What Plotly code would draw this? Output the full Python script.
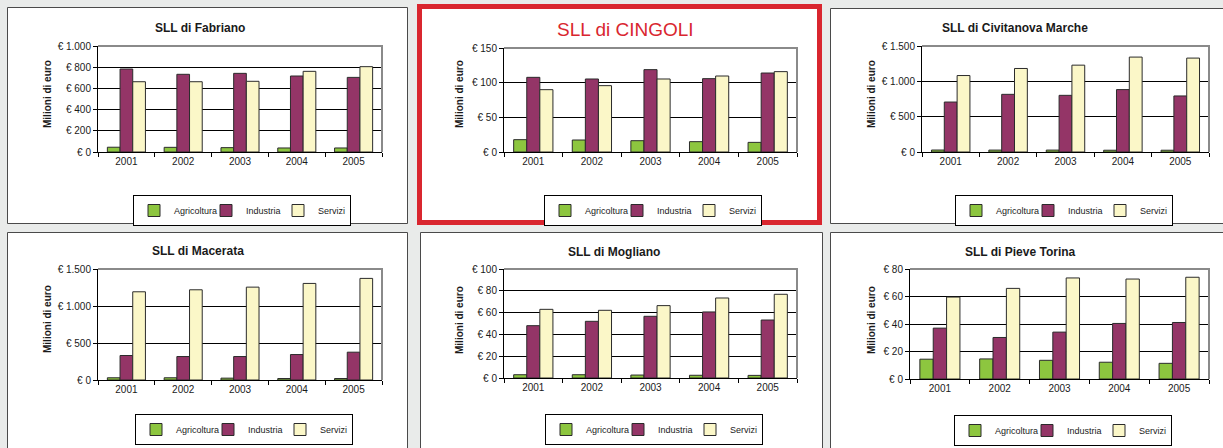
import plotly.graph_objects as go

W, H = 1223, 448

years = ["2001", "2002", "2003", "2004", "2005"]
series_names = ["Agricoltura", "Industria", "Servizi"]

# --- data (milioni di euro) ---
fabriano_agri = [45, 44, 41, 38, 38]
fabriano_ind = [783, 733, 742, 717, 704]
fabriano_serv = [663, 663, 667, 761, 805]

cingoli_agri = [17.8, 17.3, 16.3, 14.9, 13.9]
cingoli_ind = [107.7, 105.3, 118.8, 105.8, 113.9]
cingoli_serv = [89.9, 95.7, 105.3, 109.6, 115.9]

civitanova_agri = [28, 27, 27, 25, 25]
civitanova_ind = [707, 816, 802, 883, 793]
civitanova_serv = [1082, 1182, 1229, 1343, 1329]

macerata_agri = [30, 30, 25, 20, 20]
macerata_ind = [331, 317, 317, 344, 376]
macerata_serv = [1192, 1219, 1255, 1305, 1373]

mogliano_agri = [3.0, 3.0, 2.7, 2.5, 2.4]
mogliano_ind = [48.0, 52.0, 56.6, 60.6, 53.2]
mogliano_serv = [63.0, 62.1, 66.4, 73.4, 76.8]

pieve_agri = [14.4, 14.6, 13.6, 12.2, 11.4]
pieve_ind = [37.0, 30.2, 34.1, 40.4, 41.1]
pieve_serv = [59.6, 65.9, 73.5, 72.7, 74.0]

# --- tick values / labels ---
fabriano_tickvals = [0, 200, 400, 600, 800, 1000]
fabriano_ticktext = ["€ 0", "€ 200", "€ 400", "€ 600", "€ 800", "€ 1.000"]
cingoli_tickvals = [0, 50, 100, 150]
cingoli_ticktext = ["€ 0", "€ 50", "€ 100", "€ 150"]
civitanova_tickvals = [0, 500, 1000, 1500]
civitanova_ticktext = ["€ 0", "€ 500", "€ 1.000", "€ 1.500"]
macerata_tickvals = [0, 500, 1000, 1500]
macerata_ticktext = ["€ 0", "€ 500", "€ 1.000", "€ 1.500"]
mogliano_tickvals = [0, 20, 40, 60, 80, 100]
mogliano_ticktext = ["€ 0", "€ 20", "€ 40", "€ 60", "€ 80", "€ 100"]
pieve_tickvals = [0, 20, 40, 60, 80]
pieve_ticktext = ["€ 0", "€ 20", "€ 40", "€ 60", "€ 80"]

titles = ["SLL di Fabriano", "SLL di CINGOLI", "SLL di Civitanova Marche",
          "SLL di Macerata", "SLL di Mogliano", "SLL di Pieve Torina"]

panels_data = [
    (fabriano_agri, fabriano_ind, fabriano_serv, fabriano_tickvals, fabriano_ticktext),
    (cingoli_agri, cingoli_ind, cingoli_serv, cingoli_tickvals, cingoli_ticktext),
    (civitanova_agri, civitanova_ind, civitanova_serv, civitanova_tickvals, civitanova_ticktext),
    (macerata_agri, macerata_ind, macerata_serv, macerata_tickvals, macerata_ticktext),
    (mogliano_agri, mogliano_ind, mogliano_serv, mogliano_tickvals, mogliano_ticktext),
    (pieve_agri, pieve_ind, pieve_serv, pieve_tickvals, pieve_ticktext),
]

# --- layout geometry (pixels) ---
plot_boxes = [  # x0, x1, y0(top), y1(bottom)
    (98, 382, 46, 152),
    (504, 797, 48, 152),
    (922, 1209, 46, 152),
    (98, 382, 269, 380),
    (504, 797, 269, 378),
    (910, 1209, 269, 379),
]
panel_boxes = [
    (7, 407, 7, 223),
    (419.5, 819.5, 6.5, 222.5),
    (830, 1230, 8, 223),
    (7, 407, 232, 470),
    (420, 822, 232, 470),
    (830, 1230, 232, 470),
]
title_pos = [(200, 28), (625, 30), (1015, 28), (198, 251), (614, 252), (1020, 252)]
ytitle_pos = [(47, 94), (459, 94), (871, 94), (47, 319), (459, 320), (871, 320)]
legend_pos = [(242, 195), (653, 195), (1064, 195), (244, 414), (654, 414), (1063, 415)]

colors = ["#8dc63f", "#943567", "#fbf7c8"]
FONT = "Liberation Sans, Arial, sans-serif"
BG = "#e9ebea"


def px(x):
    return x / W


def py(y):
    return 1 - y / H


fig = go.Figure()
shapes = []
annotations = []
layout = {}

for i, (agri, ind, serv, tv, tt) in enumerate(panels_data):
    n = i + 1
    xa = "x" if n == 1 else f"x{n}"
    ya = "y" if n == 1 else f"y{n}"
    leg = "legend" if n == 1 else f"legend{n}"
    for name, vals, col in zip(series_names, [agri, ind, serv], colors):
        fig.add_trace(go.Bar(
            x=years, y=vals, name=name, xaxis=xa, yaxis=ya, legend=leg,
            marker=dict(color=col, line=dict(color="#2b2b2b", width=1)),
            showlegend=True,
        ))
    x0, x1, y0, y1 = plot_boxes[i]
    xkey = "xaxis" if n == 1 else f"xaxis{n}"
    ykey = "yaxis" if n == 1 else f"yaxis{n}"
    layout[xkey] = dict(
        domain=[px(x0), px(x1)], anchor=ya, type="category",
        tickson="boundaries", ticks="outside", ticklen=4, tickcolor="#000",
        showline=True, linecolor="#000", linewidth=1, showgrid=False,
        tickfont=dict(family=FONT, size=10, color="#1a1a1a"),
        automargin=False, fixedrange=True,
    )
    layout[ykey] = dict(
        domain=[py(y1), py(y0)], anchor=xa, range=[0, tv[-1]],
        tickvals=tv, ticktext=tt, ticks="outside", ticklen=4, tickcolor="#000",
        showline=True, linecolor="#000", linewidth=1,
        showgrid=True, gridcolor="#000", gridwidth=1, zeroline=False,
        tickfont=dict(family=FONT, size=10, color="#1a1a1a"),
        automargin=False, fixedrange=True,
    )
    lx, ly = legend_pos[i]
    layout[leg] = dict(
        x=px(lx), y=py(ly), xanchor="center", yanchor="top",
        orientation="h", bgcolor="#ffffff", bordercolor="#000", borderwidth=1,
        font=dict(family=FONT, size=9, color="#1a1a1a"),
        itemwidth=30, entrywidth=27, entrywidthmode="pixels",
        traceorder="normal",
    )
    # panel background
    bx0, bx1, by0, by1 = panel_boxes[i]
    if n == 2:
        shapes.append(dict(type="rect", xref="paper", yref="paper",
                           x0=px(bx0), x1=px(bx1), y0=py(by1), y1=py(by0),
                           fillcolor="#ffffff", line=dict(color="#d9262f", width=5),
                           layer="below"))
    else:
        shapes.append(dict(type="rect", xref="paper", yref="paper",
                           x0=px(bx0 + 0.5), x1=px(bx1 + 0.5), y0=py(by1 + 0.5), y1=py(by0 + 0.5),
                           fillcolor="#ffffff", line=dict(color="#4a4a4a", width=1),
                           layer="below"))
    # plot area border (top & right, gray)
    shapes.append(dict(type="path", xref="paper", yref="paper",
                       path=f"M {px(x0)},{py(y0)} L {px(x1)},{py(y0)} L {px(x1)},{py(y1)}",
                       line=dict(color="#8a8a8a", width=2), layer="above"))
    # title
    tx, ty = title_pos[i]
    if n == 2:
        annotations.append(dict(text=titles[i], x=px(tx), y=py(ty), xref="paper", yref="paper",
                                xanchor="center", yanchor="middle", showarrow=False,
                                font=dict(family="Liberation Sans Narrow, Arial Narrow, Liberation Sans, sans-serif",
                                          size=19, color="#d9262f")))
    else:
        annotations.append(dict(text=f"<b>{titles[i]}</b>", x=px(tx), y=py(ty), xref="paper", yref="paper",
                                xanchor="center", yanchor="middle", showarrow=False,
                                font=dict(family=FONT, size=12, color="#1a1a1a")))
    ax_, ay_ = ytitle_pos[i]
    annotations.append(dict(text="<b>Milioni di euro</b>", x=px(ax_), y=py(ay_), xref="paper", yref="paper",
                            xanchor="center", yanchor="middle", showarrow=False, textangle=-90,
                            font=dict(family=FONT, size=10, color="#1a1a1a")))

fig.update_layout(
    width=W, height=H, margin=dict(l=0, r=0, t=0, b=0),
    paper_bgcolor=BG, plot_bgcolor="#c9cacc",
    barmode="group", bargap=0.33, bargroupgap=0,
    shapes=shapes, annotations=annotations,
    font=dict(family=FONT),
    **layout,
)

fig.write_html(
    "out.html",
    config={"displayModeBar": False},
    post_script=(
        "document.body.style.margin='0';"
        "document.body.style.padding='0';"
        "document.body.style.overflow='hidden';"
        f"document.body.style.background='{BG}';"
    ),
)
